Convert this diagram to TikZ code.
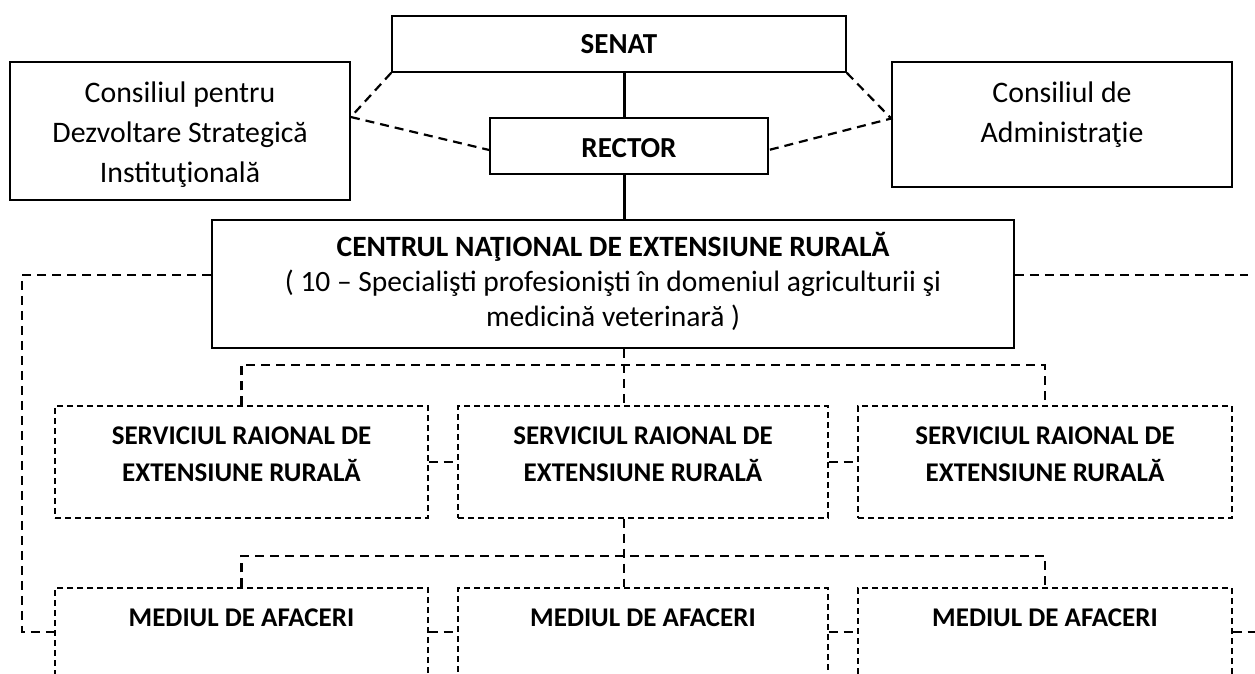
\documentclass[tikz,border=0pt]{standalone}
\usepackage{fontspec}
\setmainfont{Carlito}

\begin{document}
\begin{tikzpicture}[x=1pt, y=-1pt,
    box/.style={draw, line width=1.6pt, align=center, inner sep=0pt,
      font=\fontsize{29.8}{40}\selectfont},
    head/.style={box, font=\bfseries\fontsize{29}{34}\selectfont},
    unit/.style={draw, line width=1.2pt, dash pattern=on 6pt off 4pt,
      align=center, inner sep=0pt,
      font=\bfseries\fontsize{27}{37}\selectfont},
    link/.style={line width=2.2pt, dash pattern=on 9pt off 6pt},
    spine/.style={line width=3pt}]
  \useasboundingbox (0,0) rectangle (1255,673);
  \clip (0,0) rectangle (1255,673);

  \node[head, minimum width=454pt, text height=37pt, text depth=19pt] (senat) at (619,44) {SENAT};
  \node[head, minimum width=278pt, text height=39pt, text depth=17pt] (rector) at (629,146) {RECTOR};
  \node[box, minimum width=340pt, text height=120pt, text depth=18pt] (cdsi) at (180,131)
    {Consiliul pentru\\Dezvoltare Strategică\\Instituţională};
  \node[box, minimum width=340pt, text height=80pt, text depth=45pt] (cda) at (1062,124.5)
    {Consiliul de\\Administraţie};
  \node[box, minimum width=802pt, text height=106pt, text depth=22pt,
    font=\fontsize{29.5}{35}\selectfont] (cner) at (613,284)
    {\textbf{CENTRUL NAŢIONAL DE EXTENSIUNE RURALĂ}\\( 10 – Specialişti profesionişti în domeniul agriculturii şi\\medicină veterinară )};

  \node[unit, minimum width=373pt, text height=75pt, text depth=37pt] (serv1) at (241.5,462) {SERVICIUL RAIONAL DE\\EXTENSIUNE RURALĂ};
  \node[unit, minimum width=370pt, text height=75pt, text depth=37pt] (serv2) at (643,462) {SERVICIUL RAIONAL DE\\EXTENSIUNE RURALĂ};
  \node[unit, minimum width=374pt, text height=75pt, text depth=37pt] (serv3) at (1045,462) {SERVICIUL RAIONAL DE\\EXTENSIUNE RURALĂ};

  \node[unit, minimum width=373pt, text height=38pt, text depth=74pt] (med1) at (241.5,644) {MEDIUL DE AFACERI};
  \node[unit, minimum width=370pt, text height=38pt, text depth=74pt] (med2) at (643,644) {MEDIUL DE AFACERI};
  \node[unit, minimum width=374pt, text height=38pt, text depth=74pt] (med3) at (1045,644) {MEDIUL DE AFACERI};

  \coordinate (sp) at (624,0);
  \coordinate (bus1) at (624,365);
  \coordinate (bus2) at (624,556);
  \coordinate (lcorner) at (22,632);
  \coordinate (rend) at (1248,275);
  \coordinate (mend) at (1255,632);

  \draw[spine] (sp |- senat.south) -- (sp |- rector.north)
               (sp |- rector.south) -- (sp |- cner.north);
  \draw[link] (senat.south west) -- ([yshift=14pt]cdsi.east) -- ([yshift=-4pt]rector.west)
              (senat.south east) -- ([yshift=6pt]cda.west) -- ([yshift=-4pt]rector.east);

  \draw[link] ([yshift=9pt]cner.west) -| (lcorner) -- (lcorner -| med1.west)
              (rend -| cner.east) -- (rend);

  \draw[link] (sp |- cner.south) -- (sp |- serv2.north)
              (serv1.north) |- (bus1) -| (serv3.north)
              (serv1.east) -- (serv2.west)
              (serv2.east) -- (serv3.west);

  \draw[link] (sp |- serv2.south) -- (sp |- med2.north)
              (med1.north) |- (bus2) -| (med3.north)
              (med1.east |- lcorner) -- (med2.west |- lcorner)
              (med2.east |- lcorner) -- (med3.west |- lcorner)
              (med3.east |- mend) -- (mend);
\end{tikzpicture}
\end{document}
